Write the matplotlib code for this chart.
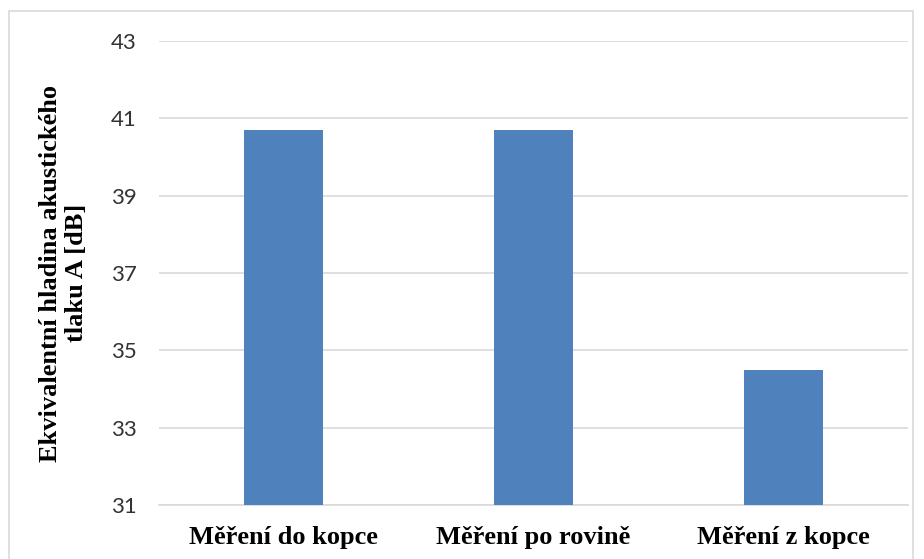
import matplotlib
matplotlib.use("Agg")
import matplotlib.pyplot as plt
from matplotlib.patches import Rectangle

# measured values
categories = ["Měření do kopce", "Měření po rovině", "Měření z kopce"]
levels = [40.7, 40.7, 34.5]
yticks = [31, 33, 35, 37, 39, 41, 43]

fig = plt.figure(figsize=(9.24, 5.59), dpi=100)
ax = fig.add_axes([0.172, 0.0966, 0.811, 0.83])

ax.bar(range(len(categories)), levels, width=0.316, color="#4F81BD", zorder=3)

ax.set_ylim(31, 43)
ax.set_xlim(-0.5, 2.5)
ax.set_yticks(yticks)
ax.set_xticks(range(len(categories)))
ax.set_xticklabels(categories, fontfamily="Liberation Serif", fontweight="bold", fontsize=19)
for lab in ax.get_yticklabels():
    lab.set_fontfamily("Lato")
    lab.set_fontsize(16)
    lab.set_color("#333333")

ax.grid(axis="y", color="#D9D9D9", linewidth=1.2, zorder=0)
for s in ["top", "right", "left"]:
    ax.spines[s].set_visible(False)
ax.spines["bottom"].set_color("#D9D9D9")
ax.spines["bottom"].set_linewidth(1.2)
ax.tick_params(axis="both", length=0)
ax.tick_params(axis="y", pad=16)
ax.tick_params(axis="x", pad=15)

ax.set_ylabel("Ekvivalentní hladina akustického\ntlaku A [dB]",
              fontfamily="Liberation Serif", fontweight="bold", fontsize=19,
              linespacing=1.15)
ax.yaxis.set_label_coords(-0.095, 0.5)

# chart frame
fig.patches.append(Rectangle((9 / 924, -0.05), 904 / 924, 1 - 11 / 559 + 0.05,
                             transform=fig.transFigure, fill=False,
                             edgecolor="#D9D9D9", linewidth=1.2))

fig.savefig("out.png", dpi=100)
